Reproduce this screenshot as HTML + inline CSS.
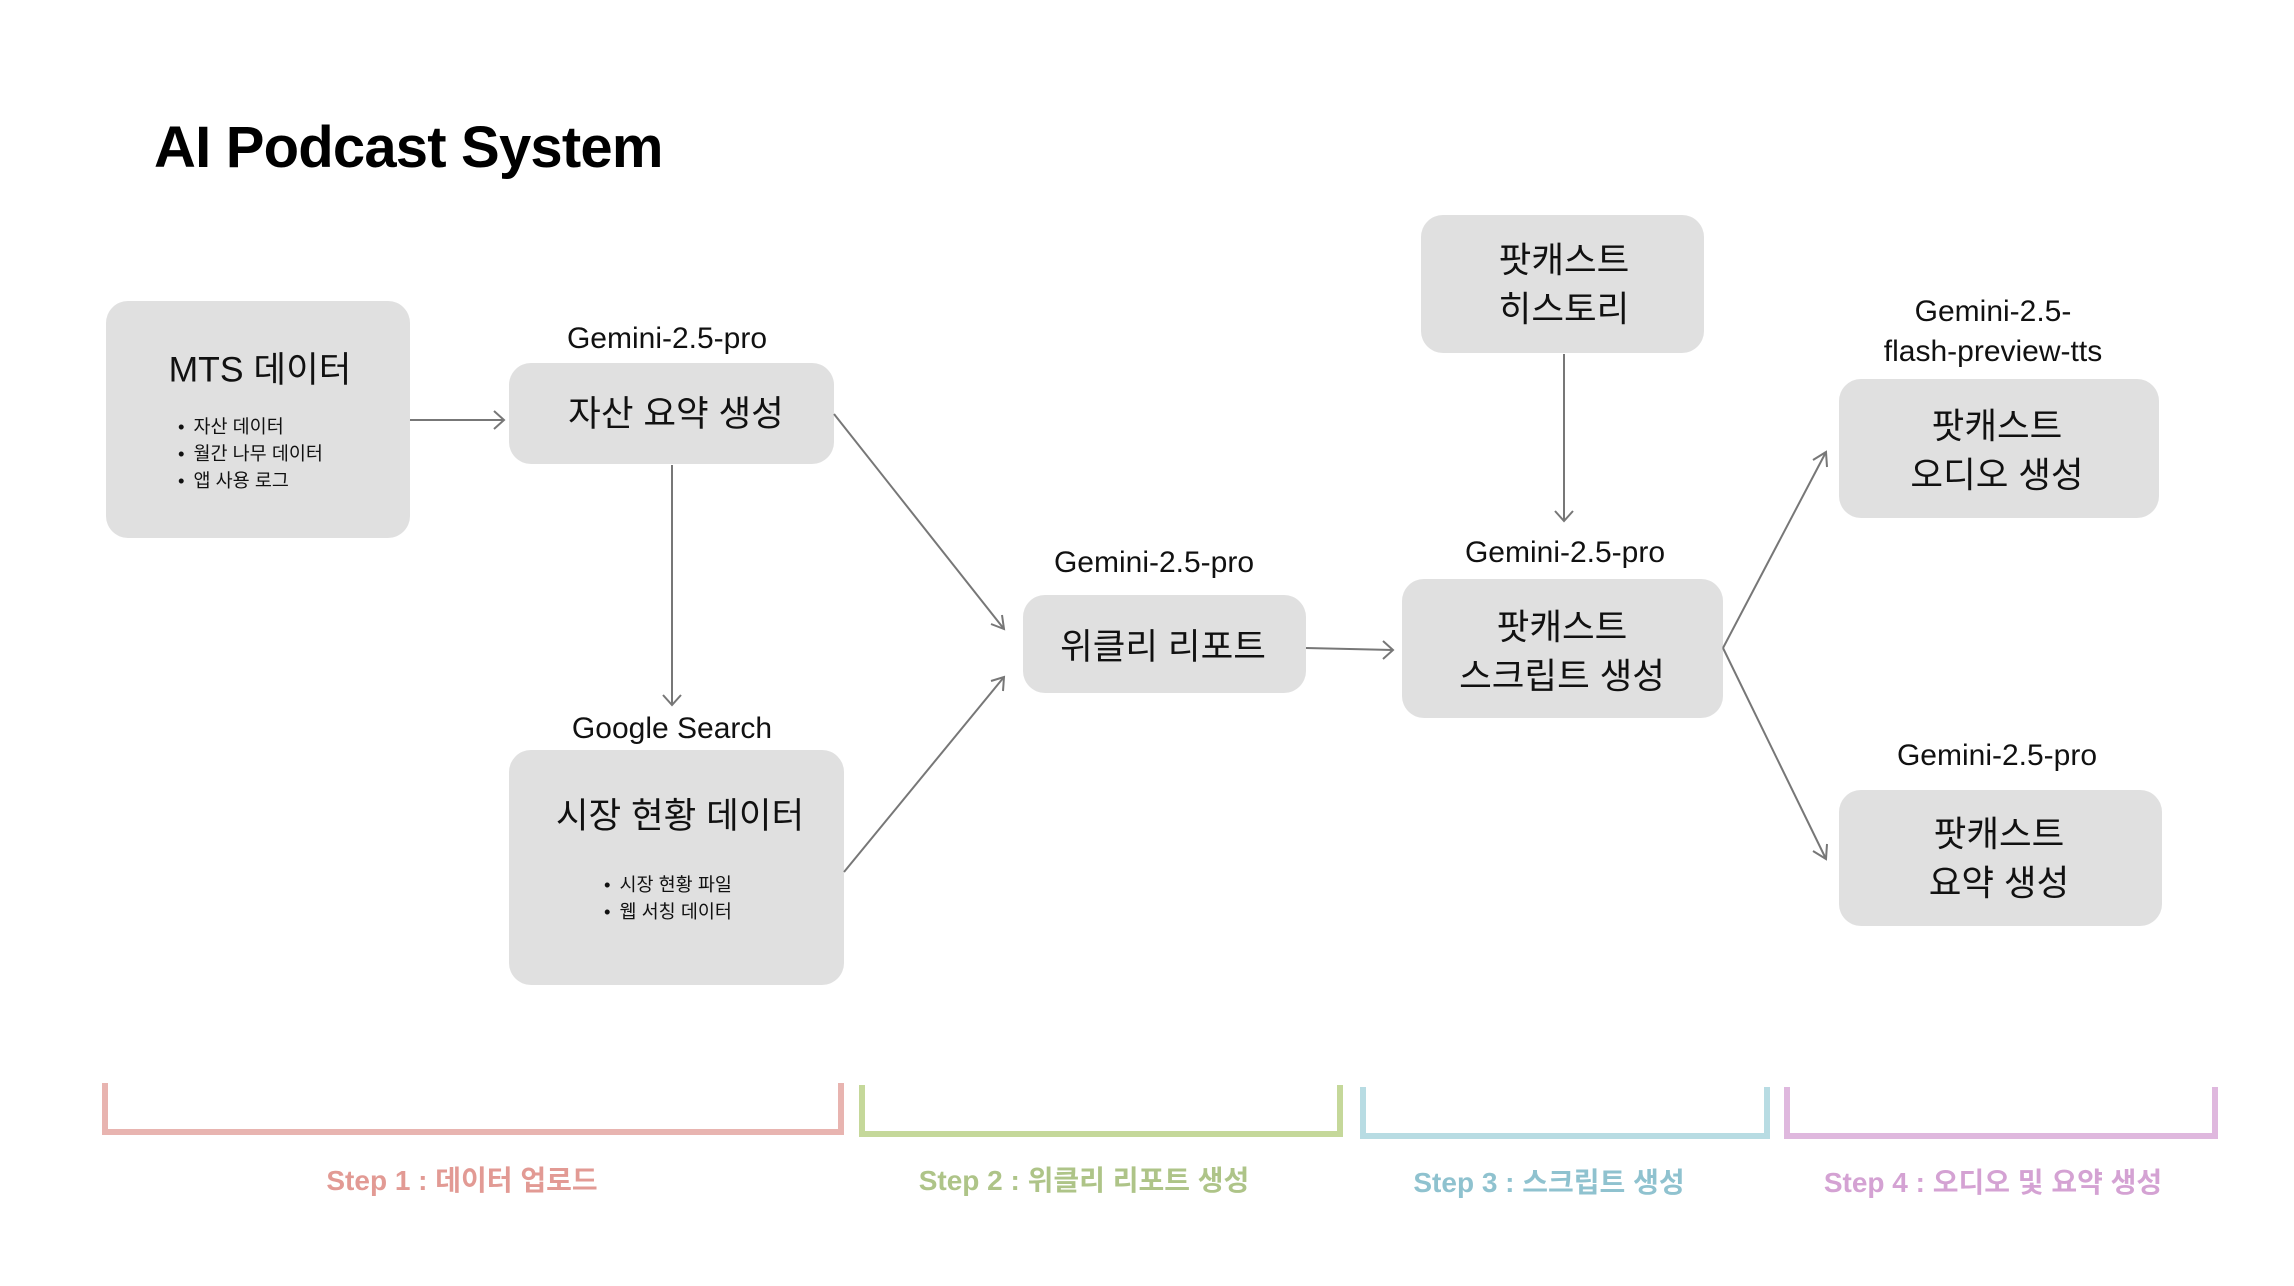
<!DOCTYPE html>
<html><head><meta charset="utf-8"><style>
*{margin:0;padding:0;box-sizing:border-box}
body{width:2294px;height:1286px;background:#fff;position:relative;overflow:hidden;font-family:"Liberation Sans","Noto Sans CJK KR",sans-serif;color:#111}
.box{position:absolute;background:#e0e0e0;border-radius:22px}
.t{position:absolute;white-space:nowrap;transform:translate(-50%,-50%);text-align:center;margin-top:3px}
.big{font-size:35.5px;line-height:49px}
.lab{font-size:30px}
.bul{position:absolute;font-size:18.5px;line-height:27px;white-space:nowrap;margin-top:3px}
.bul div::before{content:"•";margin-right:9px}
.st{font-size:28px;font-weight:bold}
</style></head><body>
<div style="position:absolute;left:154px;top:114px;font-size:58px;font-weight:bold;letter-spacing:-0.8px;color:#000">AI Podcast System</div>

<div class="box" style="left:106px;top:301px;width:304px;height:237px"></div>
<div class="t big" style="left:260px;top:367px">MTS 데이터</div>
<div class="bul" style="left:178px;top:410px"><div>자산 데이터</div><div>월간 나무 데이터</div><div>앱 사용 로그</div></div>

<div class="t lab" style="left:667px;top:336px">Gemini-2.5-pro</div>
<div class="box" style="left:509px;top:363px;width:325px;height:101px"></div>
<div class="t big" style="left:676px;top:411px">자산 요약 생성</div>

<div class="t lab" style="left:672px;top:726px">Google Search</div>
<div class="box" style="left:509px;top:750px;width:335px;height:235px"></div>
<div class="t big" style="left:680px;top:813px">시장 현황 데이터</div>
<div class="bul" style="left:604px;top:868px"><div>시장 현황 파일</div><div>웹 서칭 데이터</div></div>

<div class="t lab" style="left:1154px;top:560px">Gemini-2.5-pro</div>
<div class="box" style="left:1023px;top:595px;width:283px;height:98px"></div>
<div class="t big" style="left:1163px;top:644px">위클리 리포트</div>

<div class="box" style="left:1421px;top:215px;width:283px;height:138px"></div>
<div class="t big" style="left:1564px;top:282px">팟캐스트<br>히스토리</div>

<div class="t lab" style="left:1565px;top:550px">Gemini-2.5-pro</div>
<div class="box" style="left:1402px;top:579px;width:321px;height:139px"></div>
<div class="t big" style="left:1562px;top:649px">팟캐스트<br>스크립트 생성</div>

<div class="t lab" style="left:1993px;top:329px;line-height:40px">Gemini-2.5-<br>flash-preview-tts</div>
<div class="box" style="left:1839px;top:379px;width:320px;height:139px"></div>
<div class="t big" style="left:1997px;top:448px">팟캐스트<br>오디오 생성</div>

<div class="t lab" style="left:1997px;top:753px">Gemini-2.5-pro</div>
<div class="box" style="left:1839px;top:790px;width:323px;height:136px"></div>
<div class="t big" style="left:1999px;top:856px">팟캐스트<br>요약 생성</div>

<svg width="2294" height="1286" style="position:absolute;left:0;top:0" fill="none">
<g stroke="#777" stroke-width="2">
<line x1="410" y1="420" x2="504" y2="420"/><polyline points="494,411 504,420 494,429"/>
<line x1="672" y1="465" x2="672" y2="705"/><polyline points="663,695 672,705 681,695"/>
<line x1="834" y1="414" x2="1004" y2="629"/><polyline points="1002,615 1004,629 991,624"/>
<line x1="844" y1="872" x2="1004" y2="677"/><polyline points="991,681 1004,677 1003,691"/>
<line x1="1306" y1="648" x2="1393" y2="650"/><polyline points="1383,641 1393,650 1383,659"/>
<line x1="1564" y1="354" x2="1564" y2="521"/><polyline points="1555,511 1564,521 1573,511"/>
<line x1="1723" y1="648" x2="1826" y2="452"/><polyline points="1813,460 1826,452 1827,467"/>
<line x1="1723" y1="648" x2="1826" y2="859"/><polyline points="1813,851 1826,859 1827,844"/>
</g>
<polyline points="105,1083 105,1132 841,1132 841,1083" stroke="#e8b4b0" stroke-width="6"/>
<polyline points="862,1085 862,1134 1340,1134 1340,1085" stroke="#c5d89a" stroke-width="6"/>
<polyline points="1363,1087 1363,1136 1767,1136 1767,1087" stroke="#b8dce3" stroke-width="6"/>
<polyline points="1787,1087 1787,1136 2215,1136 2215,1087" stroke="#dfb8de" stroke-width="6"/>
</svg>
<div class="t st" style="left:462px;top:1176px;color:#e29a94">Step 1 : 데이터 업로드</div>
<div class="t st" style="left:1084px;top:1176px;color:#aec488">Step 2 : 위클리 리포트 생성</div>
<div class="t st" style="left:1549px;top:1178px;color:#8fc2cf">Step 3 : 스크립트 생성</div>
<div class="t st" style="left:1993px;top:1178px;color:#d4a2d3">Step 4 : 오디오 및 요약 생성</div>
</body></html>
